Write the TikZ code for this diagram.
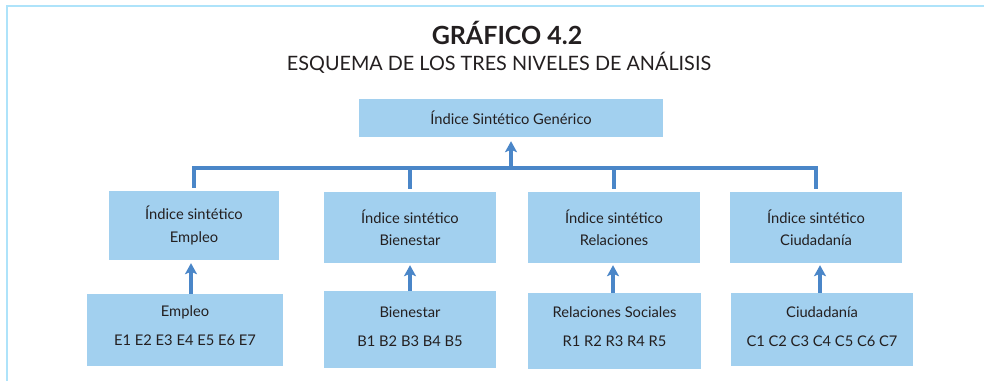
\documentclass[tikz,border=0pt]{standalone}
\usepackage{fontspec}
\setmainfont{Lato}
\usetikzlibrary{arrows.meta}
\definecolor{boxfill}{HTML}{A2D0EF}
\definecolor{conncol}{HTML}{4A86C8}
\definecolor{framecol}{HTML}{AEE3FA}
\definecolor{txt}{HTML}{231F20}
\tikzset{
  box/.style={fill=boxfill, draw=none, inner sep=0pt},
  lbl/.style={inner sep=0pt, align=center, text=txt, font=\fontsize{14.7}{22.5}\selectfont},
  lblb/.style={lbl, font=\fontsize{14.7}{29}\selectfont},
  conn/.style={draw=conncol, line width=3.5pt, line join=miter},
  arr/.style={conn, -{Stealth[length=11pt,width=12pt,inset=2.5pt]}},
}
\begin{document}
\begin{tikzpicture}[x=1pt,y=-1pt]
\useasboundingbox (0,0) rectangle (984,381);
\draw[framecol, line width=1.4pt] (7,381) -- (7,6) -- (984,6);
\node[text=txt, font=\bfseries\fontsize{25}{25}\selectfont] (t1) at (507,33) {GRÁFICO 4.2};
\node[text=txt, font=\fontsize{19.8}{19.8}\selectfont] (t2) at (499,62.5) {ESQUEMA DE LOS TRES NIVELES DE ANÁLISIS};
\node[box, minimum width=304pt, minimum height=38pt] (top) at (511,118) {};
\node[lbl] (topt) at (top) {Índice Sintético Genérico};
\node[box, minimum width=170pt, minimum height=69pt] (e2) at (194,225.5) {};
\node[box, minimum width=172pt, minimum height=71pt] (b2) at (410,227.5) {};
\node[box, minimum width=172pt, minimum height=71pt] (r2) at (614,227.5) {};
\node[box, minimum width=172pt, minimum height=71pt] (c2) at (816,227.5) {};
\node[lbl] (e2t) at (e2) {Índice sintético\\Empleo};
\node[lbl] (b2t) at (b2) {Índice sintético\\Bienestar};
\node[lbl] (r2t) at (r2) {Índice sintético\\Relaciones};
\node[lbl] (c2t) at (c2) {Índice sintético\\Ciudadanía};
\node[box, minimum width=196pt, minimum height=72pt] (e3) at (185,330) {};
\node[box, minimum width=172pt, minimum height=77pt] (b3) at (410,329.5) {};
\node[box, minimum width=173pt, minimum height=76pt] (r3) at (614.5,331) {};
\node[box, minimum width=182pt, minimum height=73pt] (c3) at (822,329.5) {};
\node[lblb, yshift=4pt] (e3t) at (e3) {Empleo\\E1 E2 E3 E4 E5 E6 E7};
\node[lblb, yshift=3pt] (b3t) at (b3) {Bienestar\\B1 B2 B3 B4 B5};
\node[lblb, yshift=4pt] (r3t) at (r3) {Relaciones Sociales\\R1 R2 R3 R4 R5};
\node[lblb, yshift=3pt] (c3t) at (c3) {Ciudadanía\\C1 C2 C3 C4 C5 C6 C7};
\coordinate (bar) at (511,168);
\draw[conn] ([yshift=3pt]e2.north) -- (e2.north |- bar) -- (c2.north |- bar) -- ([yshift=3pt]c2.north);
\draw[conn] ([yshift=3pt]b2.north) -- (b2.north |- bar);
\draw[conn] ([yshift=3pt]r2.north) -- (r2.north |- bar);
\draw[arr, shorten >=4pt] (top.south |- bar) -- (top.south);
\draw[arr, shorten >=3pt] ([xshift=-3pt]e2.south |- e3.north) -- ([xshift=-3pt]e2.south);
\draw[arr, shorten >=2pt] (b2.south |- b3.north) -- (b2.south);
\draw[arr, shorten >=2pt] ([xshift=-1pt]r2.south |- r3.north) -- ([xshift=-1pt]r2.south);
\draw[arr, shorten >=2pt] ([xshift=4pt]c2.south |- c3.north) -- ([xshift=4pt]c2.south);
\end{tikzpicture}
\end{document}
